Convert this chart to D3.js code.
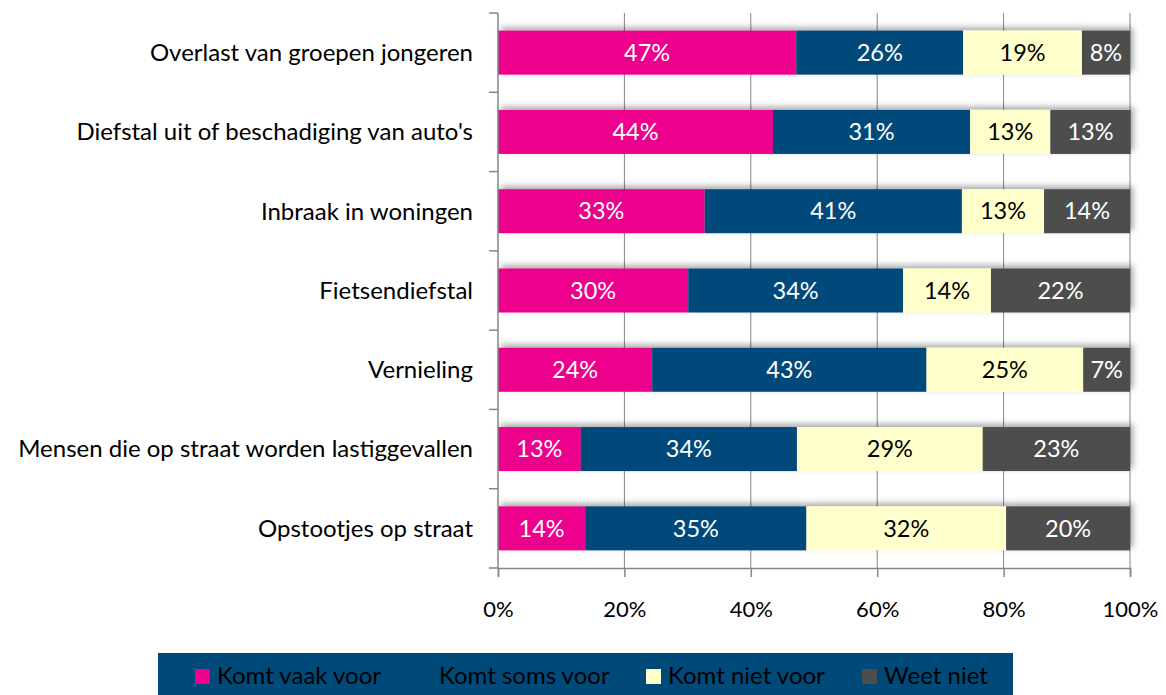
<!DOCTYPE html>
<html>
<head>
  <meta charset="UTF-8">
  <title>Overlast in de buurt</title>
  <script src="https://d3js.org/d3.v7.min.js"></script>
  <style>
    body { margin: 0; padding: 0; background: #fff; }
    svg { display: block; font-family: Lato, "Open Sans", sans-serif; }
    .cat text { font-size: 24px; fill: #000; }
    .xaxis text { font-size: 22px; fill: #000; }
    .lbl { font-size: 23.5px; }
    .legend text { font-size: 24px; fill: #000; }
  </style>
</head>
<body>
  <svg id="chart" width="1166" height="695"></svg>
  <script>
    // categorieen (van boven naar beneden)
    var categories = [
      "Overlast van groepen jongeren",
      "Diefstal uit of beschadiging van auto's",
      "Inbraak in woningen",
      "Fietsendiefstal",
      "Vernieling",
      "Mensen die op straat worden lastiggevallen",
      "Opstootjes op straat"
    ];
    var series = ["Komt vaak voor", "Komt soms voor", "Komt niet voor", "Weet niet"];

    // aandelen in procenten
    var vaak  = [47.2, 43.5, 32.7, 30.1, 24.4, 13.1, 13.8];
    var soms  = [26.4, 31.2, 40.7, 34.0, 43.4, 34.2, 35.0];
    var niet  = [18.8, 12.7, 13.0, 13.9, 24.8, 29.4, 31.6];
    var weet  = [7.6, 12.7, 13.6, 22.0, 7.4, 23.3, 19.6];
    var xTicks = [0, 20, 40, 60, 80, 100];

    var colors = ["#ec008c", "#004a7a", "#ffffcc", "#4d4d4d"];
    var textColors = ["#fff", "#fff", "#000", "#fff"];

    var table = categories.map(function (c, i) {
      return { cat: c, "Komt vaak voor": vaak[i], "Komt soms voor": soms[i], "Komt niet voor": niet[i], "Weet niet": weet[i] };
    });
    var stack = d3.stack().keys(series)(table);

    var svg = d3.select("#chart");
    var plotLeft = 498, plotRight = 1130, plotTop = 13, plotBottom = 568;

    var x = d3.scaleLinear().domain([0, 100]).range([plotLeft, plotRight]);
    var y = d3.scaleBand().domain(categories).range([plotTop, plotBottom])
      .paddingInner(0.445).paddingOuter(0.2225);

    // schaduw
    var defs = svg.append("defs");
    var f = defs.append("filter").attr("id", "shadow")
      .attr("x", "-5%").attr("y", "-40%").attr("width", "110%").attr("height", "180%");
    f.append("feDropShadow").attr("dx", 3).attr("dy", -3).attr("stdDeviation", 3)
      .attr("flood-color", "#000").attr("flood-opacity", 0.35);

    // rasterlijnen
    svg.append("g").selectAll("line").data(xTicks.slice(1)).enter().append("line")
      .attr("x1", d => x(d)).attr("x2", d => x(d))
      .attr("y1", plotTop).attr("y2", plotBottom)
      .attr("stroke", "#868686").attr("stroke-width", 1);

    // balken
    var rows = svg.append("g").selectAll("g.row").data(table).enter().append("g")
      .attr("class", "row").attr("filter", "url(#shadow)");
    rows.selectAll("rect").data(function (d, i) {
      return stack.map(function (s, k) { return { k: k, v0: s[i][0], v1: s[i][1], cat: d.cat }; });
    }).enter().append("rect")
      .attr("x", d => x(d.v0))
      .attr("width", d => x(d.v1) - x(d.v0))
      .attr("y", d => y(d.cat))
      .attr("height", y.bandwidth())
      .attr("fill", d => colors[d.k]);

    // labels in de balken
    stack.forEach(function (s, k) {
      svg.append("g").selectAll("text").data(s).enter().append("text")
        .attr("class", "lbl")
        .attr("x", d => x((d[0] + d[1]) / 2))
        .attr("y", d => y(d.data.cat) + y.bandwidth() / 2)
        .attr("dy", "0.35em")
        .attr("text-anchor", "middle")
        .attr("fill", textColors[k])
        .text(d => Math.round(d[1] - d[0]) + "%");
    });

    // y-as
    var yAxis = svg.append("g").attr("class", "cat");
    yAxis.append("line").attr("x1", plotLeft).attr("x2", plotLeft).attr("y1", plotTop).attr("y2", plotBottom)
      .attr("stroke", "#868686").attr("stroke-width", 1.5);
    yAxis.selectAll("line.tick").data(d3.range(categories.length + 1)).enter().append("line")
      .attr("class", "tick")
      .attr("x1", plotLeft - 9).attr("x2", plotLeft)
      .attr("y1", i => plotTop + i * y.step()).attr("y2", i => plotTop + i * y.step())
      .attr("stroke", "#868686").attr("stroke-width", 1.5);
    yAxis.selectAll("text").data(categories).enter().append("text")
      .attr("x", plotLeft - 25)
      .attr("y", d => y(d) + y.bandwidth() / 2)
      .attr("dy", "0.35em")
      .attr("text-anchor", "end")
      .text(d => d);

    // x-as
    var xAxis = svg.append("g").attr("class", "xaxis")
      .attr("transform", "translate(0," + plotBottom + ")")
      .call(d3.axisBottom(x).tickValues(xTicks).tickFormat(d => d + "%").tickSize(9).tickPadding(24));
    xAxis.attr("font-size", null).attr("font-family", null);
    xAxis.select(".domain").attr("stroke", "#868686").attr("stroke-width", 1.5);
    xAxis.selectAll(".tick line").attr("stroke", "#868686").attr("stroke-width", 1.5);

    // legenda
    var legend = svg.append("g").attr("class", "legend");
    legend.append("rect").attr("x", 158).attr("y", 653).attr("width", 855).attr("height", 42)
      .attr("fill", "#004a7a");
    var legX = [195, 417, 646, 862];
    var items = legend.selectAll("g.item").data(series).enter().append("g")
      .attr("transform", (d, i) => "translate(" + legX[i] + ",669)");
    items.append("rect").attr("width", 15).attr("height", 15).attr("fill", (d, i) => colors[i]);
    items.append("text").attr("x", 22).attr("y", 15).text(d => d);
  </script>
</body>
</html>
